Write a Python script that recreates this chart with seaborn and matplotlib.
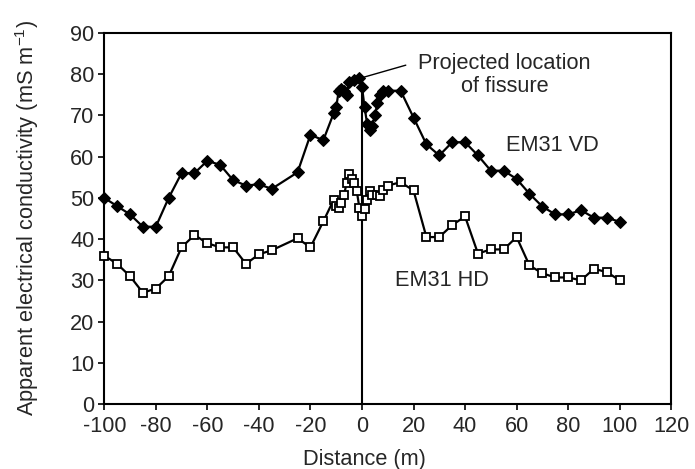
import matplotlib
matplotlib.use("Agg")
import matplotlib.pyplot as plt
import seaborn as sns
import pandas as pd

# ---- data ----
vd_x = [-100, -95, -90, -85, -80, -75, -70, -65, -60, -55, -50, -45, -40, -35,
        -25, -20, -15, -11, -10, -9, -8, -7, -6, -5, -3, -1, 0, 1, 2, 3, 4, 5,
        6, 7, 8, 10, 15, 20, 25, 30, 35, 40, 45, 50, 55, 60, 65, 70, 75, 80,
        85, 90, 95, 100]
vd_y = [50, 48, 46, 43, 43, 50, 56, 56, 59, 58, 54.3, 53, 53.3, 52.2,
        56.2, 65.3, 64, 70.5, 72, 76, 76.5, 76, 75, 78, 78.5, 79, 77, 72, 68, 66.5, 67.5, 70,
        73, 75, 76, 76, 76, 69.5, 63, 60.3, 63.5, 63.5, 60.3, 56.6, 56.6, 54.6, 51, 47.9, 46, 46,
        47, 45.2, 45.2, 44.2]

hd_x = [-100, -95, -90, -85, -80, -75, -70, -65, -60, -55, -50, -45, -40, -35,
        -25, -20, -15, -11, -10, -9, -8, -7, -6, -5, -4, -3, -2, -1, 0, 1, 2, 3,
        4, 6, 7, 8, 10, 15, 20, 25, 30, 35, 40, 45, 50, 55, 60, 65, 70, 75, 80,
        85, 90, 95, 100]
hd_y = [36, 34, 31, 27, 28, 31, 38, 41, 39, 38, 38, 34, 36.3, 37.3,
        40.2, 38, 44.3, 49.5, 48, 47.5, 48.7, 50.6, 53.5, 55.7, 54.5, 53.5, 51.6, 47.6, 45.7, 47.4, 49.6, 51.6,
        50.8, 50.6, 50.5, 52, 53, 53.8, 51.8, 40.5, 40.5, 43.4, 45.5, 36.5, 37.5, 37.5, 40.5, 33.6, 31.7, 30.7, 30.7,
        30, 32.8, 32, 30]

x_ticks = [-100, -80, -60, -40, -20, 0, 20, 40, 60, 80, 100, 120]
y_ticks = [0, 10, 20, 30, 40, 50, 60, 70, 80, 90]

x_label = "Distance (m)"
y_label = "Apparent electrical conductivity (mS m$^{-1}$)"
vd_name = "EM31 VD"
hd_name = "EM31 HD"
note = "Projected location\nof fissure"
fissure_x = 0
fissure_top = 79

# ---- style ----
sns.set_style("ticks")
plt.rcParams["font.family"] = ["Liberation Sans", "DejaVu Sans"]
plt.rcParams["mathtext.fontset"] = "custom"
plt.rcParams["mathtext.rm"] = "Liberation Sans"
plt.rcParams["mathtext.it"] = "Liberation Sans"
plt.rcParams["mathtext.default"] = "regular"
plt.rcParams["axes.unicode_minus"] = False

FS = 15.7

fig = plt.figure(figsize=(6.95, 4.69), dpi=100)
ax = fig.add_axes([0.150, 0.1386, 0.8158, 0.791])

df_vd = pd.DataFrame({"x": vd_x, "y": vd_y})
df_hd = pd.DataFrame({"x": hd_x, "y": hd_y})

sns.lineplot(data=df_vd, x="x", y="y", ax=ax, color="black", lw=1.6,
             marker="D", markersize=5.8, markerfacecolor="black",
             markeredgecolor="black", sort=False, clip_on=False, zorder=3)
sns.lineplot(data=df_hd, x="x", y="y", ax=ax, color="black", lw=1.6,
             marker="s", markersize=6.3, markerfacecolor="white",
             markeredgecolor="black", markeredgewidth=1.3, sort=False,
             clip_on=False, zorder=3)

ax.vlines(fissure_x, 0, fissure_top, color="black", lw=1.5, zorder=2)

ax.annotate("", xy=(0.8, 79.3), xytext=(17, 82.2),
            arrowprops=dict(arrowstyle="-", lw=1.0, color="black",
                            shrinkA=0, shrinkB=0))
ax.text(55.4, 79.8, note, ha="center", va="center", fontsize=FS,
        linespacing=1.1)
ax.text(73.7, 62.8, vd_name, ha="center", va="center", fontsize=FS)
ax.text(31, 30.0, hd_name, ha="center", va="center", fontsize=FS)

ax.set_xlim(-100, 120)
ax.set_ylim(0, 90)
ax.set_xticks(x_ticks)
ax.set_yticks(y_ticks)
ax.tick_params(axis="both", labelsize=FS, direction="out", length=4,
               width=1.2, color="black", pad=3)
ax.tick_params(axis="x", pad=5)
for s in ax.spines.values():
    s.set_visible(True)
    s.set_linewidth(1.5)
    s.set_color("black")

ax.set_xlabel(x_label, fontsize=FS)
ax.set_ylabel(y_label, fontsize=FS)
ax.xaxis.set_label_coords(0.4586, -0.12)
ax.yaxis.set_label_coords(-0.112, 0.5)

fig.savefig("out.png", dpi=100)
